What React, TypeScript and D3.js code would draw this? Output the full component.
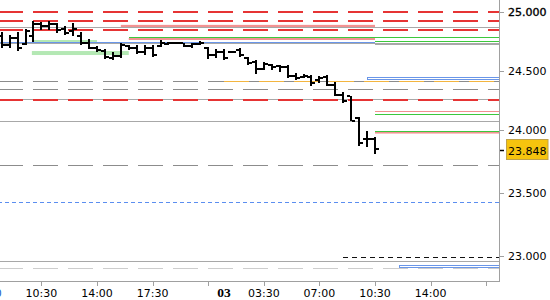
import React from "react";
import * as d3 from "d3";

// ---- price axis ----
const priceTicks = [23.0, 23.5, 24.0, 24.5, 25.0];
const lastPrice = 23.848;

// ---- time axis (session hours from 07:00 day 1, night break removed) ----
const timeTickHours = [0, 3.5, 7, 10.5, 14, 17.5, 21, 24.5, 28, 31.5];
const timeTickLabels = ["07:00", "10:30", "14:00", "17:30", "", "03:30", "07:00", "10:30", "14:00", ""];
const dayLabel = "03";
const dayLabelHour = 15;

// ---- 30-minute OHLC bars ----
const firstBarHour = 1;
const barStepHours = 0.5;
const highs = [24.832, 24.807, 24.832, 24.858, 24.926, 24.917, 24.926, 24.909, 24.883, 24.909, 24.832, 24.771, 24.713, 24.687, 24.662, 24.739, 24.721, 24.721, 24.721, 24.721, 24.764, 24.747, 24.747, 24.738, 24.738, 24.756, 24.704, 24.687, 24.687, 24.670, 24.696, 24.619, 24.594, 24.577, 24.560, 24.551, 24.551, 24.483, 24.475, 24.466, 24.458, 24.466, 24.407, 24.322, 24.288, 24.110, 23.992, 23.945];
const lows = [24.696, 24.696, 24.670, 24.721, 24.747, 24.849, 24.849, 24.824, 24.807, 24.798, 24.721, 24.687, 24.662, 24.602, 24.594, 24.611, 24.679, 24.645, 24.636, 24.619, 24.704, 24.721, 24.738, 24.704, 24.696, 24.721, 24.602, 24.611, 24.594, 24.653, 24.619, 24.551, 24.475, 24.509, 24.509, 24.492, 24.441, 24.424, 24.441, 24.373, 24.398, 24.373, 24.288, 24.229, 24.076, 23.874, 23.866, 23.810];
const opens = [24.80, 24.72, 24.78, 24.73, 24.80, 24.90, 24.88, 24.90, 24.86, 24.84, 24.80, 24.74, 24.70, 24.67, 24.61, 24.63, 24.71, 24.70, 24.66, 24.70, 24.71, 24.73, 24.74, 24.735, 24.71, 24.73, 24.70, 24.64, 24.66, 24.66, 24.68, 24.61, 24.58, 24.52, 24.55, 24.54, 24.53, 24.46, 24.45, 24.45, 24.42, 24.45, 24.38, 24.30, 24.285, 24.10, 23.93, 23.93];
const closes = [24.72, 24.78, 24.70, 24.84, 24.90, 24.88, 24.90, 24.85, 24.82, 24.86, 24.74, 24.70, 24.68, 24.62, 24.63, 24.72, 24.70, 24.66, 24.70, 24.64, 24.74, 24.74, 24.74, 24.71, 24.73, 24.74, 24.64, 24.66, 24.61, 24.66, 24.64, 24.57, 24.52, 24.56, 24.53, 24.53, 24.46, 24.44, 24.46, 24.40, 24.44, 24.38, 24.30, 24.25, 24.08, 23.90, 23.93, 23.848];

// ---- horizontal levels (price, from hour, to hour; null = chart edge) ----
const levelPrices = [25.0, 24.928, 24.872, 24.849, 24.787, 24.758, 24.75, 24.736, 24.729, 24.415, 24.415, 24.345, 24.26, 24.252, 24.158, 24.136, 24.074, 23.994, 23.72, 23.428, 22.994, 22.958, 22.904];
const levelFrom = [null, null, null, null, 9, 24.5, null, null, 24.5, null, 15, null, null, null, 24.5, 24.5, null, 24.5, null, null, 22.5, null, null];
const levelTo = [null, null, null, null, null, null, 24.5, null, null, null, null, null, null, null, null, null, null, null, null, null, null, null, null];
const levelKinds = ["red", "red", "gray", "red", "green", "green", "blue", "gray", "gray", "grayDash", "orangeDash", "grayDash", "gray", "red", "salmon", "green", "gray", "green", "grayDash", "blueDash", "blackDash", "gray", "lightDash"];

// ---- zones (top price, bottom price, from hour, to hour) ----
const zoneTops = [24.893, 24.781, 23.99, 24.764, 24.67, 24.446, 22.932];
const zoneBottoms = [24.874, 24.764, 23.972, 24.747, 24.636, 24.43, 22.913];
const zoneFrom = [8.5, 9, 24.5, 3, 2.9, 24, 26];
const zoneTo = [24.5, 24.5, null, 7, 9, null, null];
const zoneKinds = ["salmonBand", "salmonBand", "salmonBand", "paleGreen", "paleGreen", "blueBox", "blueBox"];

const lineStyles: Record<string, { stroke: string; width: number; dash?: string }> = {
  red: { stroke: "#e63434", width: 2, dash: "25,10" },
  gray: { stroke: "#a8a8a8", width: 1 },
  blue: { stroke: "#6a96e8", width: 1 },
  grayDash: { stroke: "#8c8c8c", width: 1, dash: "25,10" },
  lightDash: { stroke: "#cdcdcd", width: 1, dash: "25,10" },
  green: { stroke: "#3cc83c", width: 1 },
  salmon: { stroke: "#f29090", width: 1 },
  orangeDash: { stroke: "#f3b540", width: 1, dash: "25,10" },
  blueDash: { stroke: "#5b8ef0", width: 1, dash: "4,3" },
  blackDash: { stroke: "#111111", width: 1, dash: "5,4" },
};
const zoneStyles: Record<string, { fill: string; stroke: string }> = {
  salmonBand: { fill: "#f29292", stroke: "none" },
  paleGreen: { fill: "#b4e8b4", stroke: "none" },
  blueBox: { fill: "none", stroke: "#6a96e8" },
};

export default function App() {
  const W = 550;
  const H = 300;
  const plotRight = 499;
  const plotBottom = 281;

  const x = d3.scaleLinear().domain([0, 24.5]).range([-14.2, 375]);
  const y = d3.scaleLinear().domain(priceTicks).range([256, 193.3, 130, 71, 12.3]);

  const xFrom = (t: number | null) => (t == null ? -2 : x(t));
  const xTo = (t: number | null) => (t == null ? plotRight : x(t));

  const crisp1 = (v: number) => Math.round(v) + 0.5;
  const font = "DejaVu Sans";

  const bars = highs.map((h, i) => ({
    t: firstBarHour + i * barStepHours,
    h,
    l: lows[i],
    o: opens[i],
    c: closes[i],
  }));

  const yLast = y(lastPrice);

  return (
    <svg
      width={W}
      height={H}
      style={{ position: "absolute", left: 0, top: 0, background: "#fff" }}
      fontFamily={font}
    >
      <defs>
        <clipPath id="plotClip">
          <rect x={0} y={0} width={plotRight} height={plotBottom} />
        </clipPath>
      </defs>
      <rect x={0} y={0} width={W} height={H} fill="#fff" />
      <g clipPath="url(#plotClip)">
        {zoneTops.map((top, i) => {
          const st = zoneStyles[zoneKinds[i]];
          const x0 = xFrom(zoneFrom[i]);
          const x1 = xTo(zoneTo[i]);
          const y0 = y(top);
          const y1 = y(zoneBottoms[i]);
          if (st.fill === "none") {
            return (
              <rect
                key={"z" + i}
                x={Math.round(x0) + 0.5}
                y={crisp1(y0)}
                width={Math.round(x1 - x0)}
                height={Math.max(1, Math.round(y1 - y0))}
                fill="none"
                stroke={st.stroke}
                strokeWidth={1}
                shapeRendering="crispEdges"
              />
            );
          }
          return (
            <rect
              key={"z" + i}
              x={x0}
              y={y0}
              width={x1 - x0}
              height={y1 - y0}
              fill={st.fill}
            />
          );
        })}
        {levelPrices.map((p, i) => {
          const st = lineStyles[levelKinds[i]];
          const yy = st.width === 1 ? crisp1(y(p)) : Math.round(y(p));
          return (
            <line
              key={"l" + i}
              x1={xFrom(levelFrom[i])}
              x2={xTo(levelTo[i])}
              y1={yy}
              y2={yy}
              stroke={st.stroke}
              strokeWidth={st.width}
              strokeDasharray={st.dash}
              shapeRendering="crispEdges"
            />
          );
        })}
        {bars.map((b, i) => {
          const cx = Math.round(x(b.t));
          const yh = y(b.h);
          const yl = y(b.l);
          const yo = Math.round(y(b.o));
          const yc = Math.round(y(b.c));
          return (
            <g key={"b" + i} fill="#000" shapeRendering="crispEdges">
              <rect x={cx - 1} y={Math.round(yh)} width={2} height={Math.max(2, Math.round(yl - yh))} />
              <rect x={cx - 4} y={yo - 1} width={3} height={2} />
              <rect x={cx + 1} y={yc - 1} width={3} height={2} />
            </g>
          );
        })}
      </g>

      {/* right price axis */}
      <line x1={plotRight + 0.5} x2={plotRight + 0.5} y1={0} y2={plotBottom} stroke="#a0a0a0" strokeWidth={1} />
      {priceTicks.map((p, i) => (
        <g key={"pt" + i}>
          <line
            x1={plotRight + 1}
            x2={plotRight + 5}
            y1={crisp1(y(p))}
            y2={crisp1(y(p))}
            stroke="#a0a0a0"
            strokeWidth={1}
          />
          <text
            x={508}
            y={y(p) + 4}
            fontSize={11}
            fill="#000"
            stroke={p === 25 ? "#000" : "none"}
            strokeWidth={p === 25 ? 0.35 : 0}
          >
            {d3.format(".3f")(p)}
          </text>
        </g>
      ))}
      {/* last price tag */}
      <line x1={plotRight + 1} x2={plotRight + 5} y1={Math.round(yLast) + 1.5} y2={Math.round(yLast) + 1.5} stroke="#000" strokeWidth={1.5} />
      <rect
        x={506.5}
        y={Math.round(yLast) - 9.5}
        width={41.5}
        height={20}
        fill="#f6c40e"
        stroke="#bfa24a"
        strokeWidth={1}
      />
      <text x={508} y={yLast + 5.6} fontSize={11} fill="#000">
        {d3.format(".3f")(lastPrice)}
      </text>

      {/* bottom time axis */}
      <line x1={0} x2={plotRight + 1} y1={plotBottom + 0.5} y2={plotBottom + 0.5} stroke="#a0a0a0" strokeWidth={1} />
      {timeTickHours.map((t, i) => (
        <g key={"tt" + i}>
          <line
            x1={crisp1(x(t))}
            x2={crisp1(x(t))}
            y1={plotBottom + 1}
            y2={plotBottom + 5}
            stroke="#a0a0a0"
            strokeWidth={1}
          />
          {timeTickLabels[i] && (
            <text
              x={x(t)}
              y={297}
              fontSize={11}
              textAnchor="middle"
              fill={i === 0 ? "#2060c8" : "#000"}
            >
              {timeTickLabels[i]}
            </text>
          )}
        </g>
      ))}
      <text
        x={x(dayLabelHour)}
        y={297}
        fontSize={13.5}
        fontWeight="bold"
        fontFamily="Liberation Serif"
        textAnchor="middle"
        fill="#000"
      >
        {dayLabel}
      </text>
    </svg>
  );
}
